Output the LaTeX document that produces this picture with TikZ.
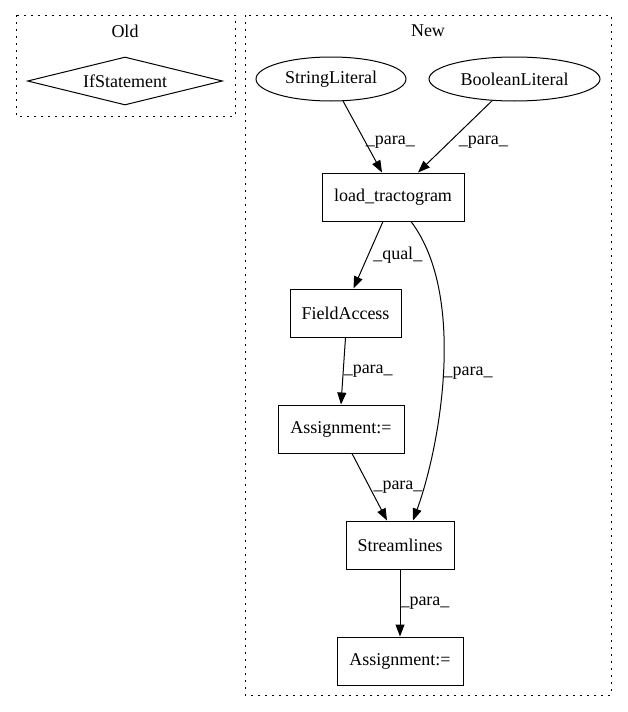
\documentclass[tikz,border=0pt]{standalone}
\usepackage{fontspec}
\setmainfont{Liberation Serif}
\usetikzlibrary{shapes.geometric,arrows.meta}

\begin{document}
\begin{tikzpicture}[
	x=1pt,
	y=-1pt,
	every node/.style={font=\fontsize{18}{21}\selectfont},
	cluster/.style={
		draw,
		line width=1pt,
		dash pattern=on 1.6pt off 5.4pt
		},
	box/.style={
		rectangle,
		draw,
		line width=1pt,
		minimum height=48pt
		},
	lit/.style={
		ellipse,
		draw,
		line width=1pt,
		minimum height=44pt
		},
	cond/.style={
		diamond,
		draw,
		line width=1pt,
		aspect=4,
		inner sep=0pt,
		minimum width=195pt,
		minimum height=48pt
		},
	edge/.style={
		draw,
		line width=1pt,
		-{Triangle[length=12pt,width=9pt]}
	},
	lbl/.style={
		right,
		inner sep=0pt
	}
]
\useasboundingbox (0,0) rectangle (627,712);

% Clusters
\draw [cluster] (16,15) rectangle (235,116);
\node (OldTitle) at (125,31) {Old};
\draw [cluster] (245,15) rectangle (611,695);
\node (NewTitle) at (428,31) {New};

% Old
\node [cond] (IfStmt) at (125,81) {IfStatement};

% New
\node [lit, minimum width=150pt] (StrLit) at (331,79) {StringLiteral};
\node [lit, minimum width=171pt] (BoolLit) at (514.5,79) {BooleanLiteral};
\node [box, minimum width=142pt] (LoadTr) at (393,197) {load\_tractogram};
\node [box, minimum width=111pt] (FieldAcc) at (345.5,313) {FieldAccess};
\node [box, minimum width=126pt] (AssignA) at (341,429) {Assignment:=};
\node [box, minimum width=108pt] (Stream) at (400,545) {Streamlines};
\node [box, minimum width=126pt] (AssignB) at (400,661) {Assignment:=};

% Edges
\draw [edge] (StrLit) -- node [lbl, pos=0.575] {\_para\_} ([xshift=-11pt]LoadTr.north);
\draw [edge] (BoolLit) -- node [lbl, pos=0.575, xshift=9pt] {\_para\_} ([xshift=25pt]LoadTr.north);
\draw [edge] ([xshift=-10pt]LoadTr.south) -- node [lbl, pos=0.5, xshift=4.5pt] {\_qual\_} ([xshift=8pt]FieldAcc.north);
\draw [edge] ([xshift=18pt]LoadTr.south) .. controls (468,297) and (439,450) .. node [lbl, pos=0.5] {\_para\_} ([xshift=13pt]Stream.north);
\draw [edge] (FieldAcc.south) -- node [lbl, pos=0.5] {\_para\_} (AssignA.north);
\draw [edge] ([xshift=11pt]AssignA.south) -- node [lbl, pos=0.5, xshift=3.5pt] {\_para\_} ([xshift=-13pt]Stream.north);
\draw [edge] (Stream) -- node [lbl, pos=0.5] {\_para\_} (AssignB);

\end{tikzpicture}
\end{document}
